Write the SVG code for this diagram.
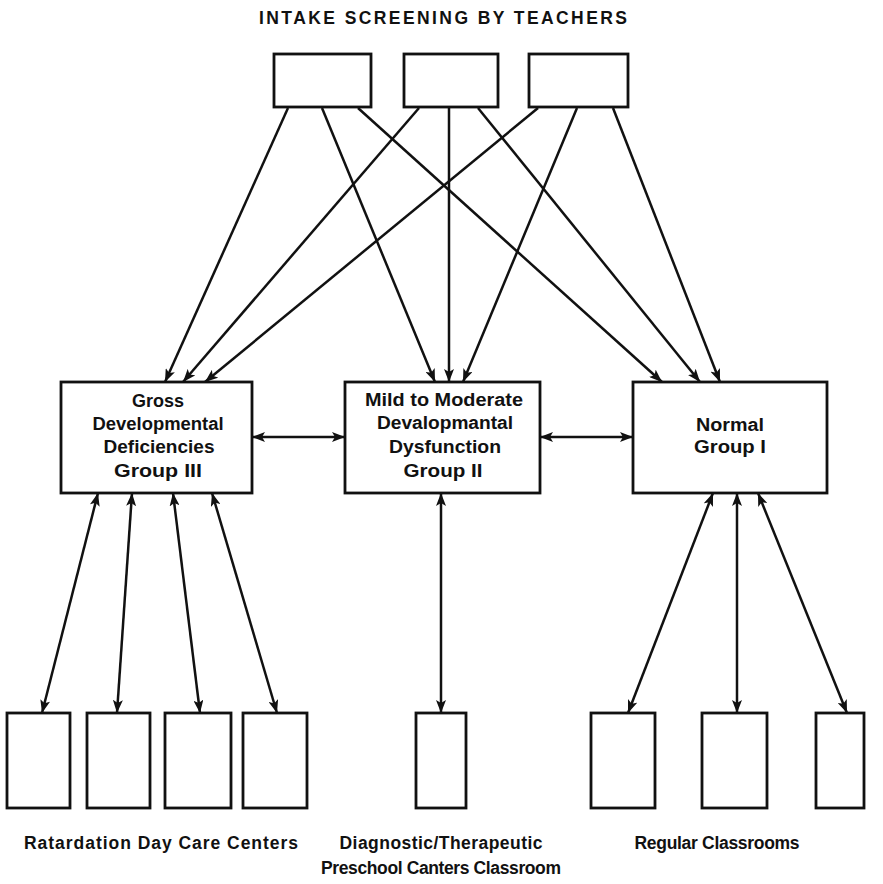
<svg xmlns="http://www.w3.org/2000/svg" width="883" height="884" viewBox="0 0 883 884">
  <style>
    .box { fill: #ffffff; stroke: #111111; stroke-width: 2.8; }
    .edge { fill: none; stroke: #111111; stroke-width: 2.5; }
    .title { font-family: "Liberation Sans", Arial, sans-serif; font-weight: bold; font-size: 17.5px; fill: #111111; }
    .label { font-family: "Liberation Sans", Arial, sans-serif; font-weight: bold; font-size: 17.5px; fill: #111111; text-anchor: middle; }
    .caption { font-family: "Liberation Sans", Arial, sans-serif; font-weight: bold; font-size: 17.5px; fill: #111111; text-anchor: middle; }
  </style>
  <defs>
    <marker id="head" viewBox="0 0 13 10" refX="13" refY="5" markerWidth="13" markerHeight="10" markerUnits="userSpaceOnUse" orient="auto-start-reverse">
      <path d="M0,0 L13,5 L0,10 L3,5 Z" fill="#111111"/>
    </marker>
  </defs>
  <rect width="883" height="884" fill="#ffffff"/>

  <text class="title" x="259" y="24" textLength="368" lengthAdjust="spacing">INTAKE SCREENING BY TEACHERS</text>

  <!-- intake screening boxes -->
  <g id="intake-1"><rect class="box" x="274" y="54" width="97" height="53"/></g>
  <g id="intake-2"><rect class="box" x="404" y="54" width="94" height="53"/></g>
  <g id="intake-3"><rect class="box" x="529" y="54" width="99" height="53"/></g>

  <!-- group boxes -->
  <g id="group-3">
    <rect class="box" x="61" y="382" width="191" height="111"/>
    <text class="label" x="158" y="407" textLength="52" lengthAdjust="spacingAndGlyphs">Gross</text>
    <text class="label" x="158" y="430" textLength="131" lengthAdjust="spacingAndGlyphs">Developmental</text>
    <text class="label" x="159" y="453" textLength="111" lengthAdjust="spacingAndGlyphs">Deficiencies</text>
    <text class="label" x="158" y="477" textLength="88" lengthAdjust="spacingAndGlyphs">Group III</text>
  </g>
  <g id="group-2">
    <rect class="box" x="345" y="382" width="195" height="111"/>
    <text class="label" x="444" y="406" textLength="158" lengthAdjust="spacingAndGlyphs">Mild to Moderate</text>
    <text class="label" x="445" y="429" textLength="136" lengthAdjust="spacingAndGlyphs">Devalopmantal</text>
    <text class="label" x="445" y="453" textLength="112" lengthAdjust="spacingAndGlyphs">Dysfunction</text>
    <text class="label" x="443" y="477" textLength="79" lengthAdjust="spacingAndGlyphs">Group II</text>
  </g>
  <g id="group-1">
    <rect class="box" x="633" y="382" width="194" height="111"/>
    <text class="label" x="730" y="431" textLength="68" lengthAdjust="spacingAndGlyphs">Normal</text>
    <text class="label" x="730" y="453" textLength="72" lengthAdjust="spacingAndGlyphs">Group I</text>
  </g>

  <!-- placement boxes -->
  <g id="daycare-1"><rect class="box" x="7" y="713" width="63" height="95"/></g>
  <g id="daycare-2"><rect class="box" x="87" y="713" width="63" height="95"/></g>
  <g id="daycare-3"><rect class="box" x="165" y="713" width="66" height="95"/></g>
  <g id="daycare-4"><rect class="box" x="243" y="713" width="64" height="95"/></g>
  <g id="preschool-1"><rect class="box" x="416" y="713" width="50" height="95"/></g>
  <g id="classroom-1"><rect class="box" x="591" y="713" width="64" height="95"/></g>
  <g id="classroom-2"><rect class="box" x="702" y="713" width="65" height="95"/></g>
  <g id="classroom-3"><rect class="box" x="816" y="713" width="48" height="95"/></g>

  <!-- captions -->
  <text class="caption" x="161" y="849" textLength="274" lengthAdjust="spacing">Ratardation Day Care Centers</text>
  <text class="caption" x="441" y="849" textLength="203" lengthAdjust="spacing">Diagnostic/Therapeutic</text>
  <text class="caption" x="441" y="874" textLength="240" lengthAdjust="spacing">Preschool Canters Classroom</text>
  <text class="caption" x="717" y="849" textLength="165" lengthAdjust="spacing">Regular Classrooms</text>

  <!-- connectors -->
  <g id="connectors">
    <g marker-end="url(#head)">
      <line class="edge" x1="288" y1="108" x2="165" y2="382"/>
      <line class="edge" x1="322" y1="108" x2="435" y2="382"/>
      <line class="edge" x1="358" y1="108" x2="662" y2="382"/>
      <line class="edge" x1="419" y1="108" x2="183" y2="382"/>
      <line class="edge" x1="449" y1="108" x2="449" y2="382"/>
      <line class="edge" x1="478" y1="108" x2="700" y2="382"/>
      <line class="edge" x1="538" y1="108" x2="205" y2="382"/>
      <line class="edge" x1="577" y1="108" x2="463" y2="382"/>
      <line class="edge" x1="613" y1="108" x2="720" y2="382"/>
    </g>
    <g marker-start="url(#head)" marker-end="url(#head)">
      <line class="edge" x1="252" y1="437" x2="345" y2="437"/>
      <line class="edge" x1="540" y1="437" x2="633" y2="437"/>
      <line class="edge" x1="98" y1="493" x2="42" y2="713"/>
      <line class="edge" x1="132" y1="493" x2="117" y2="713"/>
      <line class="edge" x1="173" y1="493" x2="200" y2="713"/>
      <line class="edge" x1="212" y1="493" x2="277" y2="713"/>
      <line class="edge" x1="441" y1="493" x2="441" y2="713"/>
      <line class="edge" x1="713" y1="493" x2="628" y2="713"/>
      <line class="edge" x1="737" y1="493" x2="737" y2="713"/>
      <line class="edge" x1="758" y1="493" x2="847" y2="713"/>
    </g>
  </g>
</svg>
